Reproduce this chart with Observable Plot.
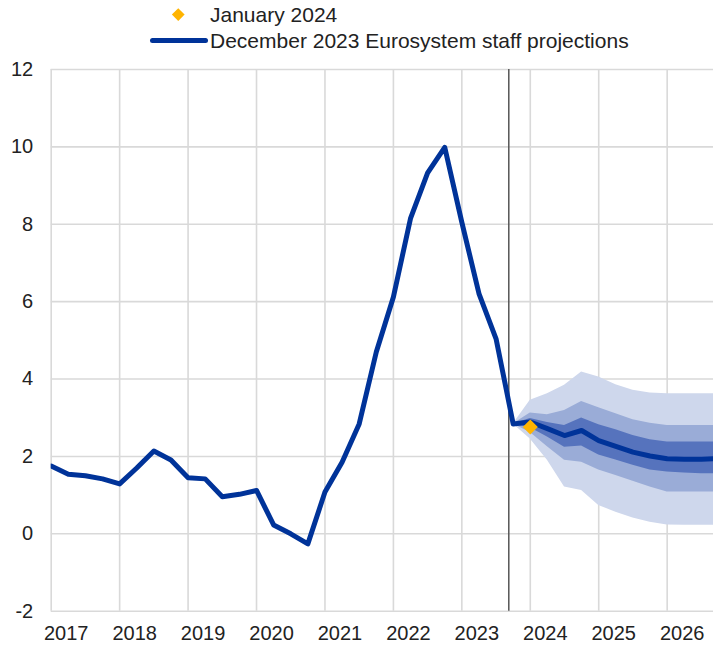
<!DOCTYPE html>
<html>
<head>
<meta charset="utf-8">
<script src="https://cdn.jsdelivr.net/npm/d3@7"></script>
<script src="https://cdn.jsdelivr.net/npm/@observablehq/plot@0.6"></script>
<style>
  html, body { margin: 0; padding: 0; background: #fff; }
  body { width: 713px; height: 645px; overflow: hidden; font-family: "Liberation Sans", Arial, sans-serif; }
  #legend { position: relative; height: 56px; width: 713px; color: #222; font-size: 21px; }
  #legend .txt { position: absolute; left: 210px; line-height: 21px; white-space: nowrap; }
  #legend .dia { position: absolute; width: 8.5px; height: 8.5px; background: #ffb400; transform: rotate(45deg); }
  #legend .ln { position: absolute; height: 5px; background: #003399; border-radius: 2.5px; }
  svg { display: block; }
</style>
</head>
<body>
<div id="legend">
  <div class="dia" style="left:173.5px; top:9.5px;"></div>
  <div class="txt" style="top:3.5px;">January 2024</div>
  <div class="ln" style="left:150px; top:37.5px; width:58px;"></div>
  <div class="txt" style="top:29.5px;">December 2023 Eurosystem staff projections</div>
</div>
<div id="chart"></div>
<script>
// ---- data ----
const histQuarters = ["2017Q1","2017Q2","2017Q3","2017Q4","2018Q1","2018Q2","2018Q3","2018Q4",
  "2019Q1","2019Q2","2019Q3","2019Q4","2020Q1","2020Q2","2020Q3","2020Q4",
  "2021Q1","2021Q2","2021Q3","2021Q4","2022Q1","2022Q2","2022Q3","2022Q4",
  "2023Q1","2023Q2","2023Q3","2023Q4"];
const histValues = [1.75,1.54,1.50,1.42,1.29,1.70,2.14,1.91,
  1.45,1.42,0.96,1.02,1.12,0.23,0.00,-0.26,
  1.08,1.85,2.84,4.70,6.12,8.15,9.33,9.99,
  8.05,6.21,5.04,2.84];

const projQuarters = ["2023Q4","2024Q1","2024Q2","2024Q3","2024Q4","2025Q1","2025Q2","2025Q3","2025Q4",
  "2026Q1","2026Q2","2026Q3","2026Q4"];
const projMedian = [2.84,2.89,2.72,2.54,2.67,2.41,2.26,2.11,2.01,1.94,1.93,1.93,1.94];
const outerLow   = [2.84,2.45,1.90,1.21,1.12,0.73,0.56,0.41,0.30,0.23,0.22,0.22,0.22];
const outerHigh  = [2.84,3.45,3.62,3.84,4.18,4.05,3.85,3.71,3.64,3.62,3.62,3.62,3.62];
const midLow     = [2.84,2.62,2.25,1.90,1.85,1.65,1.51,1.36,1.21,1.08,1.08,1.08,1.08];
const midHigh    = [2.84,3.12,3.08,3.19,3.42,3.26,3.10,2.95,2.86,2.80,2.80,2.80,2.80];
const innerLow   = [2.84,2.74,2.50,2.24,2.27,2.04,1.91,1.77,1.65,1.60,1.57,1.55,1.55];
const innerHigh  = [2.84,2.98,2.88,2.80,2.99,2.82,2.69,2.54,2.43,2.37,2.37,2.37,2.37];

const janQuarter = "2024Q1";
const janValue = 2.76;
const projectionStart = 2023.686;   // position of the vertical cut-off line (in years)

const yearTicks = [2017,2018,2019,2020,2021,2022,2023,2024,2025,2026];
const yTicks = [-2,0,2,4,6,8,10,12];

// ---- helpers ----
const qToT = q => +q.slice(0,4) + (+q.slice(5) - 1) / 4;
const hist = histQuarters.map((q,i) => ({t: qToT(q), v: histValues[i]}));
const proj = projQuarters.map((q,i) => ({
  t: qToT(q), m: projMedian[i],
  oL: outerLow[i], oH: outerHigh[i], mL: midLow[i], mH: midHigh[i], iL: innerLow[i], iH: innerHigh[i]
}));
const line = hist.concat(proj.slice(1).map(d => ({t: d.t, v: d.m})));
const jan = [{t: qToT(janQuarter), v: janValue}];

const grid = "#d9d9d9";
const chart = Plot.plot({
  width: 713,
  height: 589,
  marginTop: 13,
  marginBottom: 34.3,
  marginLeft: 50.7,
  marginRight: 0,
  style: {fontFamily: "'Liberation Sans', Arial, sans-serif", color: "#222", background: "#fff"},
  x: {domain: [2017, 2026.677], axis: null},
  y: {domain: [-2, 12], axis: null},
  marks: [
    Plot.ruleY(yTicks, {stroke: grid, strokeWidth: 1.6}),
    Plot.ruleX(yearTicks, {stroke: grid, strokeWidth: 1.6}),
    Plot.areaY(proj, {x: "t", y1: "oL", y2: "oH", fill: "#ced7ec", clip: true}),
    Plot.areaY(proj, {x: "t", y1: "mL", y2: "mH", fill: "#9aacd7", clip: true}),
    Plot.areaY(proj, {x: "t", y1: "iL", y2: "iH", fill: "#5673bd", clip: true}),
    Plot.ruleX([projectionStart], {stroke: "#555", strokeWidth: 1.5}),
    Plot.line(line, {x: "t", y: "v", stroke: "#003399", strokeWidth: 5, strokeLinejoin: "round", clip: true}),
    Plot.dot(jan, {x: "t", y: "v", symbol: "diamond2", r: 6.8, fill: "#ffb400", stroke: null}),
    Plot.axisX({ticks: yearTicks, tickFormat: d => String(d), tickSize: 0, tickPadding: 15, dx: 15, fontSize: 20, label: null}),
    Plot.axisY({ticks: yTicks, tickFormat: d => String(d), tickSize: 0, tickPadding: 18, fontSize: 20, label: null})
  ]
});
document.getElementById("chart").appendChild(chart);
</script>
</body>
</html>
